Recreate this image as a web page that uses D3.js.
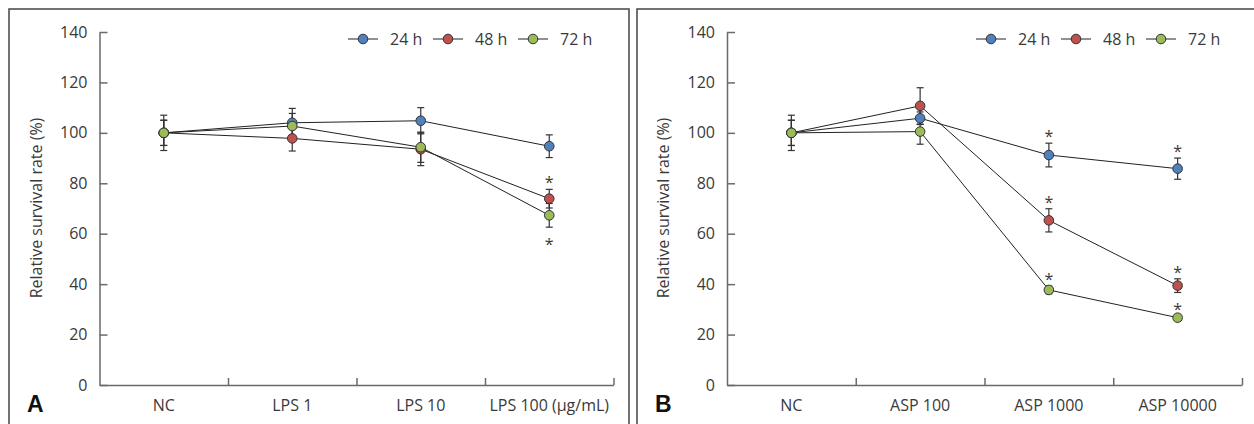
<!DOCTYPE html>
<html>
<head>
<meta charset="utf-8">
<script src="https://cdn.jsdelivr.net/npm/d3@7"></script>
<style>
    body { margin: 0; background: #fff; }
    svg text { font-family: "Open Sans", "DejaVu Sans", sans-serif; fill: #3a3a3a; }
</style>
</head>
<body>
<svg id="chart" width="1254" height="424"></svg>
<script>
'use strict';

// categories
const categoriesA = ['NC', 'LPS 1', 'LPS 10', 'LPS 100 (µg/mL)'];
const categoriesB = ['NC', 'ASP 100', 'ASP 1000', 'ASP 10000'];
const seriesNames = ['24 h', '48 h', '72 h'];
const yTicks = [0, 20, 40, 60, 80, 100, 120, 140];

// panel A means / sd
const meanA24 = [100, 104.0, 104.8, 94.7];
const meanA48 = [100, 97.8, 93.5, 73.9];
const meanA72 = [100, 102.7, 94.3, 67.3];
const errA24 = [7, 5.7, 5.2, 4.5];
const errA48 = [5, 5, 6.5, 3.7];
const errA72 = [5, 5, 6, 4.7];

// panel B means / sd
const meanB24 = [100, 105.8, 91.2, 85.8];
const meanB48 = [100, 110.7, 65.3, 39.4];
const meanB72 = [100, 100.5, 37.7, 26.7];
const errB24 = [7, 2.5, 4.7, 4.2];
const errB48 = [5, 7.2, 4.6, 2.7];
const errB72 = [5, 5, 1.5, 0.8];

// significance marks: 1 = above, -1 = below, 0 = none
const sigA24 = [0, 0, 0, 0];
const sigA48 = [0, 0, 0, 1];
const sigA72 = [0, 0, 0, -1];
const sigB24 = [0, 0, 1, 1];
const sigB48 = [0, 0, 1, 1];
const sigB72 = [0, 0, 1, 1];

const colors = ['#4f81bd', '#c0504d', '#9bbb59'];

const svg = d3.select('#chart');

function buildSeries(means, errs, sigs) {
    return means.map((m, i) => ({
        name: seriesNames[i],
        color: colors[i],
        points: m.map((v, j) => ({ idx: j, v, e: errs[i][j], sig: sigs[i][j] }))
    }));
}

function drawPanel(opts) {
    const g = svg.append('g');
    const y = d3.scaleLinear().domain([0, 140]).range([385, 32]);
    const x = d3.scaleBand().domain(opts.categories).range([opts.x0, opts.x1]).padding(0);
    const xb = d3.scaleLinear().domain([0, opts.categories.length]).range([opts.x0, opts.x1]);
    const cx = i => x(opts.categories[i]) + x.bandwidth() / 2;

    // panel frame
    g.append('path')
        .attr('d', opts.frame)
        .attr('fill', 'none')
        .attr('stroke', '#444')
        .attr('stroke-width', 1.5);

    // y axis
    const yAxis = g.append('g')
        .attr('transform', `translate(${opts.x0},0)`)
        .call(d3.axisLeft(y).tickValues(yTicks).tickSize(-8).tickSizeOuter(0).tickPadding(12));
    yAxis.selectAll('text').attr('font-size', 16);

    // x axis: boundary ticks
    const xAxis = g.append('g')
        .attr('transform', 'translate(0,385)')
        .call(d3.axisBottom(xb).ticks(opts.categories.length).tickSize(-7).tickSizeOuter(0).tickFormat(''));
    xAxis.selectAll('.tick').filter(d => d === 0).remove();

    // x labels
    const xLab = g.append('g')
        .attr('transform', 'translate(0,385)')
        .call(d3.axisBottom(x).tickSize(0).tickPadding(15));
    xLab.select('.domain').remove();
    xLab.selectAll('text').attr('font-size', 16);

    [yAxis, xAxis].forEach(a => {
        a.selectAll('path, line').attr('stroke', '#6a6a6a').attr('stroke-width', 1.5);
    });
    yAxis.attr('font-family', null);
    xLab.attr('font-family', null);

    // y title
    g.append('text')
        .attr('transform', `translate(${opts.x0 - 64},208) rotate(-90)`)
        .attr('text-anchor', 'middle')
        .attr('dominant-baseline', 'central')
        .attr('font-size', 16)
        .text('Relative survival rate (%)');

    // panel letter
    g.append('text')
        .attr('x', opts.letterX)
        .attr('y', 412)
        .attr('font-size', 23)
        .attr('font-weight', 'bold')
        .style('font-family', '"Liberation Sans", Arial, sans-serif')
        .style('fill', '#111')
        .text(opts.letter);

    const line = d3.line().x(d => cx(d.idx)).y(d => y(d.v));

    opts.series.forEach(s => {
        g.append('path')
            .datum(s.points)
            .attr('d', line)
            .attr('fill', 'none')
            .attr('stroke', '#222')
            .attr('stroke-width', 1);
    });

    opts.series.forEach(s => {
        const eb = g.selectAll(null)
            .data(s.points)
            .enter()
            .append('g')
            .attr('stroke', '#333')
            .attr('stroke-width', 1.2);
        eb.append('line')
            .attr('x1', d => cx(d.idx)).attr('x2', d => cx(d.idx))
            .attr('y1', d => y(d.v - d.e)).attr('y2', d => y(d.v + d.e));
        eb.append('line')
            .attr('x1', d => cx(d.idx) - 3.5).attr('x2', d => cx(d.idx) + 3.5)
            .attr('y1', d => y(d.v + d.e)).attr('y2', d => y(d.v + d.e));
        eb.append('line')
            .attr('x1', d => cx(d.idx) - 3.5).attr('x2', d => cx(d.idx) + 3.5)
            .attr('y1', d => y(d.v - d.e)).attr('y2', d => y(d.v - d.e));
    });

    opts.series.forEach(s => {
        g.selectAll(null)
            .data(s.points)
            .enter()
            .append('circle')
            .attr('cx', d => cx(d.idx))
            .attr('cy', d => y(d.v))
            .attr('r', 4.8)
            .attr('fill', s.color)
            .attr('stroke', '#333')
            .attr('stroke-width', 1);

        // asterisks
        g.selectAll(null)
            .data(s.points.filter(d => d.sig !== 0))
            .enter()
            .append('text')
            .attr('x', d => cx(d.idx))
            .attr('y', d => (d.sig > 0 ? y(d.v + d.e) - 9 : y(d.v - d.e) + 15) + 8)
            .attr('text-anchor', 'middle')
            .attr('font-size', 16)
            .text('*');
    });

    // legend
    const leg = g.selectAll('.leg')
        .data(opts.series)
        .enter()
        .append('g')
        .attr('transform', (d, i) => `translate(${opts.legendX + i * 85},39)`);
    leg.append('line')
        .attr('x1', -15).attr('x2', 15)
        .attr('stroke', '#222').attr('stroke-width', 1);
    leg.append('circle')
        .attr('r', 4.8)
        .attr('fill', d => d.color)
        .attr('stroke', '#333');
    leg.append('text')
        .attr('x', 27)
        .attr('dy', '0.35em')
        .attr('font-size', 16)
        .text(d => d.name);
}

drawPanel({
    categories: categoriesA,
    x0: 99.5,
    x1: 613.5,
    frame: 'M9,430V9H629V430',
    letter: 'A',
    letterX: 27,
    legendX: 363,
    series: buildSeries([meanA24, meanA48, meanA72], [errA24, errA48, errA72], [sigA24, sigA48, sigA72])
});

drawPanel({
    categories: categoriesB,
    x0: 727,
    x1: 1242,
    frame: 'M637,430V9H1260',
    letter: 'B',
    letterX: 655,
    legendX: 991,
    series: buildSeries([meanB24, meanB48, meanB72], [errB24, errB48, errB72], [sigB24, sigB48, sigB72])
});
</script>
</body>
</html>
